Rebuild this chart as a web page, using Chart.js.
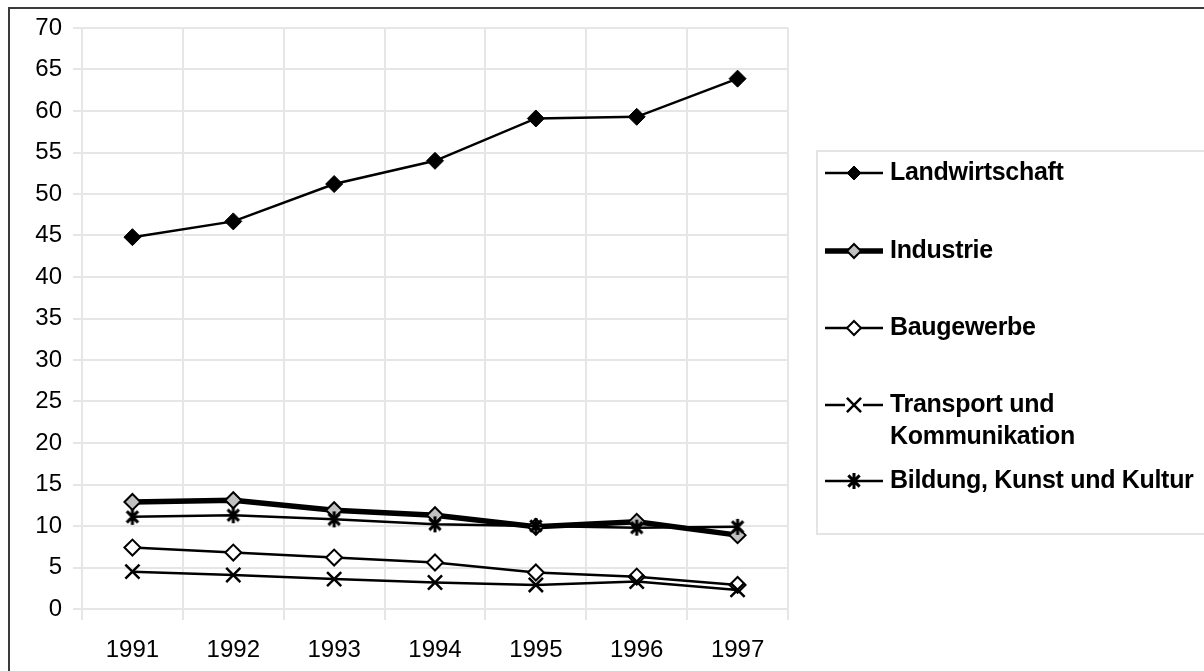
<!DOCTYPE html>
<html><head><meta charset="utf-8">
<script src="https://cdn.jsdelivr.net/npm/chart.js@4.4.1/dist/chart.umd.min.js"></script>
<style>html,body{margin:0;padding:0;background:#fff;overflow:hidden}</style>
</head><body>
<canvas id="c" width="1204" height="671" style="display:block;width:1204px;height:671px"></canvas>
<script>
const years = ['1991','1992','1993','1994','1995','1996','1997'];
const landwirtschaft = [44.8, 46.7, 51.2, 54.0, 59.1, 59.3, 63.9];
const industrie      = [12.9, 13.1, 11.9, 11.3, 9.9, 10.5, 8.9];
const baugewerbe     = [7.4, 6.8, 6.2, 5.6, 4.4, 3.9, 2.9];
const transport      = [4.5, 4.1, 3.6, 3.2, 2.9, 3.3, 2.3];
const bildung        = [11.1, 11.3, 10.8, 10.2, 10.0, 9.8, 9.9];
const seriesNames = ['Landwirtschaft', 'Industrie', 'Baugewerbe', ['Transport und', 'Kommunikation'], 'Bildung, Kunst und Kultur'];
const yMin = 0, yMax = 70, yStep = 5;

const FONT = 'Arial, "Liberation Sans", sans-serif';

function makeAsterisk(size, lw) {
  const cv = document.createElement('canvas');
  cv.width = size; cv.height = size;
  const g = cv.getContext('2d');
  const c = size / 2, r = size / 2 - 1;
  g.strokeStyle = '#000'; g.lineWidth = lw; g.lineCap = 'butt';
  g.beginPath();
  g.moveTo(c, c - r); g.lineTo(c, c + r);
  const a = Math.PI / 4;
  g.moveTo(c - r * Math.cos(a), c - r * Math.sin(a)); g.lineTo(c + r * Math.cos(a), c + r * Math.sin(a));
  g.moveTo(c + r * Math.cos(a), c - r * Math.sin(a)); g.lineTo(c - r * Math.cos(a), c + r * Math.sin(a));
  g.stroke();
  return cv;
}
const asterisk = makeAsterisk(18, 3);

function drawMarker(ctx, ds, x, y, r) {
  ctx.save();
  const st = ds.pointStyle;
  ctx.lineWidth = ds.pointBorderWidth;
  ctx.strokeStyle = ds.pointBorderColor;
  ctx.fillStyle = ds.pointBackgroundColor;
  if (st === 'rectRot') {
    ctx.beginPath();
    ctx.moveTo(x, y - r); ctx.lineTo(x + r, y); ctx.lineTo(x, y + r); ctx.lineTo(x - r, y); ctx.closePath();
    ctx.fill(); ctx.stroke();
  } else if (st === 'crossRot') {
    const d = r * Math.SQRT1_2;
    ctx.beginPath();
    ctx.moveTo(x - d, y - d); ctx.lineTo(x + d, y + d);
    ctx.moveTo(x + d, y - d); ctx.lineTo(x - d, y + d);
    ctx.stroke();
  } else if (st instanceof HTMLCanvasElement) {
    ctx.drawImage(st, x - st.width / 2, y - st.height / 2);
  }
  ctx.restore();
}

const framePlugin = {
  id: 'frame',
  beforeDraw(chart) {
    const ctx = chart.ctx;
    ctx.save();
    ctx.fillStyle = '#fff';
    ctx.fillRect(0, 0, chart.width, chart.height);
    ctx.strokeStyle = '#3a3a3a';
    ctx.lineWidth = 2;
    ctx.strokeRect(9, 8, 1400, 1000);
    ctx.restore();
  },
  afterDraw(chart) {
    const ctx = chart.ctx;
    ctx.save();
    ctx.strokeStyle = '#e4e4e4';
    ctx.lineWidth = 2;
    ctx.strokeRect(817, 151, 600, 383);
    const rows = [173, 251, 328, 405, 481];
    ctx.font = 'bold 25px ' + FONT;
    ctx.letterSpacing = '-0.3px';
    ctx.fillStyle = '#000';
    ctx.textBaseline = 'middle';
    chart.data.datasets.forEach((ds, i) => {
      const y = rows[i];
      ctx.save();
      ctx.strokeStyle = ds.borderColor;
      ctx.lineWidth = ds.borderWidth;
      ctx.beginPath(); ctx.moveTo(825, y); ctx.lineTo(883, y); ctx.stroke();
      ctx.restore();
      if (ds.pointStyle === 'crossRot') {
        ctx.save(); ctx.fillStyle = '#fff'; ctx.fillRect(845, y - 5, 18, 10); ctx.restore();
      }
      drawMarker(ctx, ds, 854, y, ds.pointStyle === 'crossRot' ? 10 : 7);
      const name = seriesNames[i];
      const lines = Array.isArray(name) ? name : [name];
      lines.forEach((t, k) => ctx.fillText(t, 890, y + k * 32));
    });
    ctx.restore();
  }
};

new Chart(document.getElementById('c'), {
  type: 'line',
  data: {
    labels: years,
    datasets: [
      { label: 'Landwirtschaft', data: landwirtschaft, borderColor: '#000', borderWidth: 2.5,
        pointStyle: 'rectRot', pointRadius: 8.5, pointBackgroundColor: '#000', pointBorderColor: '#000', pointBorderWidth: 1, order: 5 },
      { label: 'Industrie', data: industrie, borderColor: '#000', borderWidth: 5.5,
        pointStyle: 'rectRot', pointRadius: 8, pointBackgroundColor: '#c0c0c0', pointBorderColor: '#000', pointBorderWidth: 2, order: 4 },
      { label: 'Baugewerbe', data: baugewerbe, borderColor: '#000', borderWidth: 2.5,
        pointStyle: 'rectRot', pointRadius: 8, pointBackgroundColor: '#fff', pointBorderColor: '#000', pointBorderWidth: 2, order: 3 },
      { label: 'Transport und Kommunikation', data: transport, borderColor: '#000', borderWidth: 2.5,
        pointStyle: 'crossRot', pointRadius: 10, pointBackgroundColor: '#000', pointBorderColor: '#000', pointBorderWidth: 2.5, order: 2 },
      { label: 'Bildung, Kunst und Kultur', data: bildung, borderColor: '#000', borderWidth: 2.5,
        pointStyle: asterisk, pointRadius: 9, pointBackgroundColor: '#000', pointBorderColor: '#000', pointBorderWidth: 2.5, order: 1 }
    ]
  },
  options: {
    responsive: false,
    animation: false,
    devicePixelRatio: 1,
    layout: { padding: { left: 0, top: 28, right: 416, bottom: 0 } },
    plugins: { legend: { display: false }, tooltip: { enabled: false } },
    elements: { line: { tension: 0 } },
    scales: {
      x: {
        type: 'category',
        offset: true,
        grid: { offset: true, color: '#e6e6e6', lineWidth: 2, tickLength: 11, tickColor: '#e6e6e6' },
        border: { display: false },
        ticks: { color: '#000', font: { family: FONT, size: 24 }, padding: 16, maxRotation: 0 },
        afterFit(s) { s.height = 62; }
      },
      y: {
        min: yMin, max: yMax,
        grid: { color: '#e6e6e6', lineWidth: 2, tickLength: 9, tickColor: '#e6e6e6' },
        border: { display: false },
        ticks: { stepSize: yStep, color: '#000', font: { family: FONT, size: 24 }, padding: 11 },
        afterFit(s) { s.width = 82; }
      }
    }
  },
  plugins: [framePlugin]
});
</script>
</body></html>
